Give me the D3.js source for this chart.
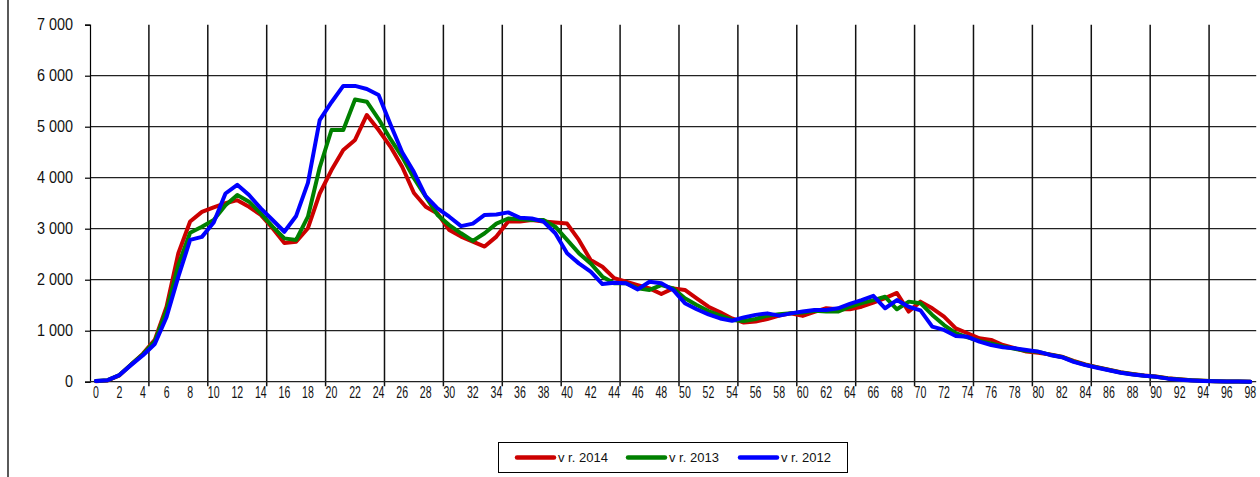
<!DOCTYPE html>
<html><head><meta charset="utf-8">
<script src="https://cdn.jsdelivr.net/npm/d3@7"></script>
<style>
html,body{margin:0;padding:0;background:#fff;}
svg{display:block;font-family:"Liberation Sans",Arial,sans-serif;}
</style></head>
<body>
<svg id="chart" width="1260" height="477"></svg>
<script>
const ages = d3.range(0, 99);
const xTickLabels = d3.range(0, 99, 2);
const yTicks = [0, 1000, 2000, 3000, 4000, 5000, 6000, 7000];
const seriesNames = ["v r. 2014", "v r. 2013", "v r. 2012"];
const seriesColors = ["#cc0000", "#008000", "#0000ff"];

const v2014 = [10,25,125,340,550,820,1470,2520,3140,3330,3420,3500,3560,3430,3270,3010,2720,2745,3010,3690,
4150,4545,4740,5230,4935,4610,4215,3700,3430,3300,2975,2845,2745,2650,2845,3140,3140,3170,3140,3120,
3100,2780,2385,2255,2030,1960,1895,1830,1720,1830,1800,1635,1470,1360,1240,1160,1180,1230,1295,1340,
1290,1370,1440,1420,1420,1470,1550,1640,1740,1375,1570,1440,1275,1045,950,850,820,720,655,590,
565,535,490,410,340,285,235,185,150,120,100,68,47,30,18,10,5,3,1];

const v2013 = [15,30,130,340,540,790,1400,2290,2920,3040,3170,3460,3660,3530,3300,3040,2810,2780,3235,4200,
4935,4935,5535,5490,5150,4760,4410,3990,3630,3270,3070,2910,2760,2910,3100,3200,3185,3170,3170,3040,
2780,2520,2320,2060,1930,1930,1830,1800,1895,1830,1635,1505,1385,1295,1210,1190,1230,1295,1325,1340,
1355,1390,1375,1375,1470,1540,1600,1665,1420,1570,1540,1310,1110,950,870,800,750,690,645,605,
585,530,485,400,330,280,230,180,145,118,98,65,45,28,17,9,5,2,1];

const v2012 = [15,30,130,330,520,740,1270,2060,2780,2840,3120,3690,3860,3660,3400,3170,2940,3250,3900,5130,
5480,5800,5800,5740,5620,5050,4500,4110,3640,3400,3235,3050,3100,3270,3280,3320,3215,3200,3140,2910,
2520,2320,2160,1915,1940,1930,1810,1960,1930,1800,1540,1420,1320,1240,1195,1260,1310,1340,1295,1340,
1375,1405,1405,1440,1525,1600,1685,1440,1600,1470,1400,1080,1015,895,880,785,720,675,655,620,
590,525,480,390,325,275,225,175,140,115,95,60,40,25,15,8,4,2,1];

const seriesValues = [v2014, v2013, v2012];

const svg = d3.select("#chart");
const pL = 90, pR = 1256.2, pT = 24.7, pB = 381.7;

const x = d3.scaleBand().domain(ages).range([pL, pR]).paddingInner(0).paddingOuter(0);
const y = d3.scaleLinear().domain([0, 7000]).range([pB, pT]);
const fmt = d3.formatLocale({decimal: ",", thousands: " ", grouping: [3], currency: ["", ""]}).format(",d");

// outer frame left edge
svg.append("line").attr("x1", 8).attr("x2", 8).attr("y1", 0).attr("y2", 477)
  .attr("stroke", "#000").attr("stroke-width", 1.3);

// horizontal gridlines
svg.append("g").selectAll("line").data(yTicks.filter(d => d > 0 && d < 7000)).join("line")
  .attr("x1", pL).attr("x2", pR)
  .attr("y1", d => y(d)).attr("y2", d => y(d))
  .attr("stroke", "#222").attr("stroke-width", 1.2);

// vertical gridlines every 5 categories (at category boundaries)
const vgrid = ages.filter(a => a > 0 && a % 5 === 0);
svg.append("g").selectAll("line").data(vgrid).join("line")
  .attr("x1", d => x(d)).attr("x2", d => x(d))
  .attr("y1", pT).attr("y2", pB + 4.5)
  .attr("stroke", "#111").attr("stroke-width", 1.5);

// y axis
const yAxis = svg.append("g").attr("transform", `translate(${pL},0)`)
  .call(d3.axisLeft(y).tickValues(yTicks).tickFormat(fmt).tickSize(5).tickPadding(12));
yAxis.select(".domain").attr("stroke", "#000").attr("stroke-width", 1.2);
yAxis.selectAll(".tick line").attr("stroke", "#000").attr("stroke-width", 1.2);
yAxis.selectAll("text").attr("font-size", 16).attr("fill", "#111")
  .attr("font-family", "Liberation Sans, Arial, sans-serif")
  .each(function(){ const w = this.getComputedTextLength(); d3.select(this).attr("textLength", w*0.9).attr("lengthAdjust","spacingAndGlyphs"); });

// x axis
svg.append("line").attr("x1", pL).attr("x2", pR).attr("y1", pB).attr("y2", pB)
  .attr("stroke", "#222").attr("stroke-width", 1.2);
const xAxis = svg.append("g").attr("transform", `translate(0,${pB})`)
  .call(d3.axisBottom(x).tickValues(xTickLabels).tickSize(0).tickPadding(5));
xAxis.select(".domain").remove();
xAxis.selectAll("text").attr("font-size", 16).attr("fill", "#111")
  .attr("font-family", "Liberation Sans, Arial, sans-serif")
  .each(function(){ const w = this.getComputedTextLength(); d3.select(this).attr("textLength", w*0.66).attr("lengthAdjust","spacingAndGlyphs"); });

// lines
const line = d3.line().x((d, i) => x(ages[i]) + x.bandwidth()/2).y(d => y(d));
svg.append("g").selectAll("path").data(seriesValues).join("path")
  .attr("d", d => line(d))
  .attr("fill", "none")
  .attr("stroke", (d, i) => seriesColors[i])
  .attr("stroke-width", 4)
  .attr("stroke-linejoin", "round")
  .attr("stroke-linecap", "round");

// legend
const lg = svg.append("g");
lg.append("rect").attr("x", 498.5).attr("y", 442.5).attr("width", 349).attr("height", 30)
  .attr("fill", "#fff").attr("stroke", "#000").attr("stroke-width", 1);
const legendX = [517, 628, 740];
seriesNames.forEach((name, i) => {
  lg.append("line").attr("x1", legendX[i]).attr("x2", legendX[i] + 37)
    .attr("y1", 457.5).attr("y2", 457.5)
    .attr("stroke", seriesColors[i]).attr("stroke-width", 4.5).attr("stroke-linecap", "round");
  lg.append("text").attr("x", legendX[i] + 41).attr("y", 462)
    .attr("font-size", 13).attr("fill", "#111").text(name);
});
</script>
</body></html>
